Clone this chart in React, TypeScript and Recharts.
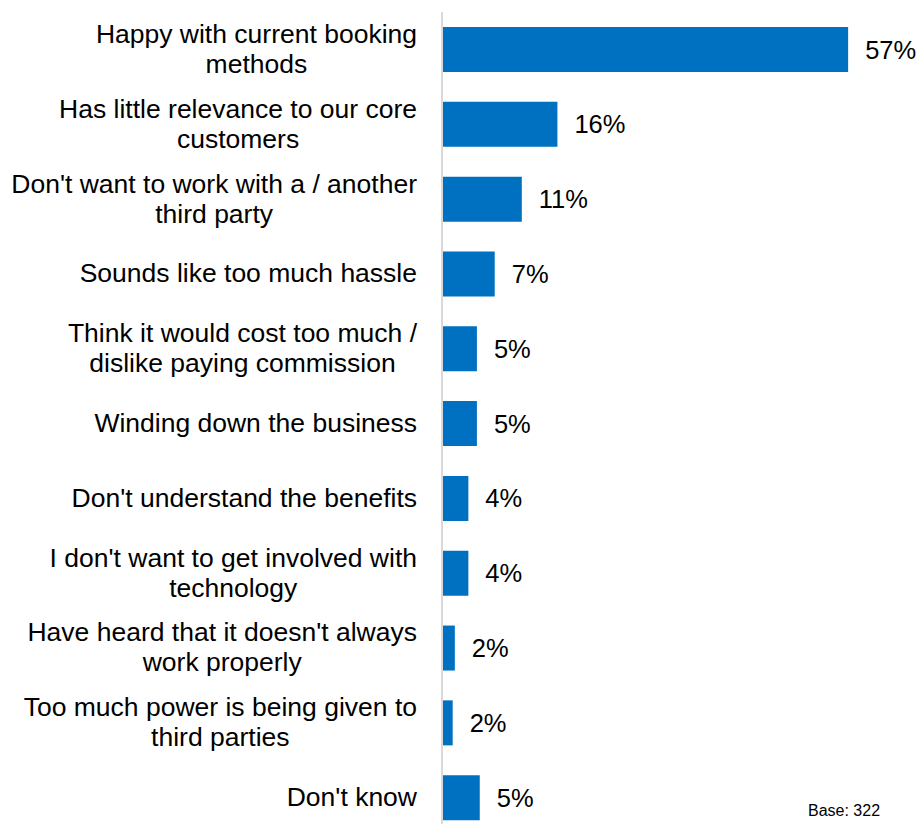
import { BarChart, Bar, XAxis, YAxis, LabelList } from "recharts";

const categories = [
  "Happy with current booking\nmethods",
  "Has little relevance to our core\ncustomers",
  "Don't want to work with a / another\nthird party",
  "Sounds like too much hassle",
  "Think it would cost too much /\ndislike paying commission",
  "Winding down the business",
  "Don't understand the benefits",
  "I don't want to get involved with\ntechnology",
  "Have heard that it doesn't always\nwork properly",
  "Too much power is being given to\nthird parties",
  "Don't know",
];
const shares = [57, 16.2, 11.2, 7.4, 4.9, 4.9, 3.7, 3.7, 1.8, 1.5, 5.3];
const baseNote = "Base: 322";

const FONT = "'Liberation Sans', Arial, sans-serif";
const CAT_SIZE = 26.5;
const rows = categories.map((name, i) => ({ name, value: shares[i] }));

let ctx: CanvasRenderingContext2D | null = null;
function textWidth(s: string) {
  if (!ctx) ctx = document.createElement("canvas").getContext("2d");
  if (!ctx) return s.length * 13;
  ctx.font = `${CAT_SIZE}px ${FONT}`;
  return ctx.measureText(s).width;
}

function CategoryTick(props: any) {
  const { y, payload } = props;
  const lines: string[] = String(payload.value).split("\n");
  const blockW = Math.max(...lines.map(textWidth));
  const cx = 417 - blockW / 2;
  return (
    <g>
      {lines.map((ln, i) => (
        <text
          key={i}
          x={cx}
          y={y + (i - (lines.length - 1) / 2) * 30 + 8.5}
          textAnchor="middle"
          fontSize={CAT_SIZE}
          fontFamily={FONT}
          fill="#000"
        >
          {ln}
        </text>
      ))}
    </g>
  );
}

export default function App() {
  return (
    <div
      style={{
        position: "absolute",
        left: 0,
        top: 0,
        width: 919,
        height: 824,
        overflow: "hidden",
        background: "#fff",
      }}
    >
      <BarChart
        width={919}
        height={835}
        data={rows}
        layout="vertical"
        margin={{ top: 12, right: 21, bottom: 0, left: 0 }}
      >
        <XAxis type="number" domain={[0, 64]} hide />
        <YAxis
          type="category"
          dataKey="name"
          width={442}
          axisLine={{ stroke: "#d9d9d9", strokeWidth: 2 }}
          tickLine={false}
          tick={<CategoryTick />}
          interval={0}
        />
        <Bar dataKey="value" fill="#0070c0" barSize={45} isAnimationActive={false}>
          <LabelList
            dataKey="value"
            position="right"
            offset={17}
            formatter={(v: any) => `${Math.round(Number(v))}%`}
            style={{ fontSize: 25.5, fontFamily: FONT, fill: "#000" }}
          />
        </Bar>
      </BarChart>
      <div
        style={{
          position: "absolute",
          left: 808,
          top: 801,
          fontSize: 16,
          lineHeight: "20px",
          fontFamily: FONT,
          color: "#000",
        }}
      >
        {baseNote}
      </div>
    </div>
  );
}
